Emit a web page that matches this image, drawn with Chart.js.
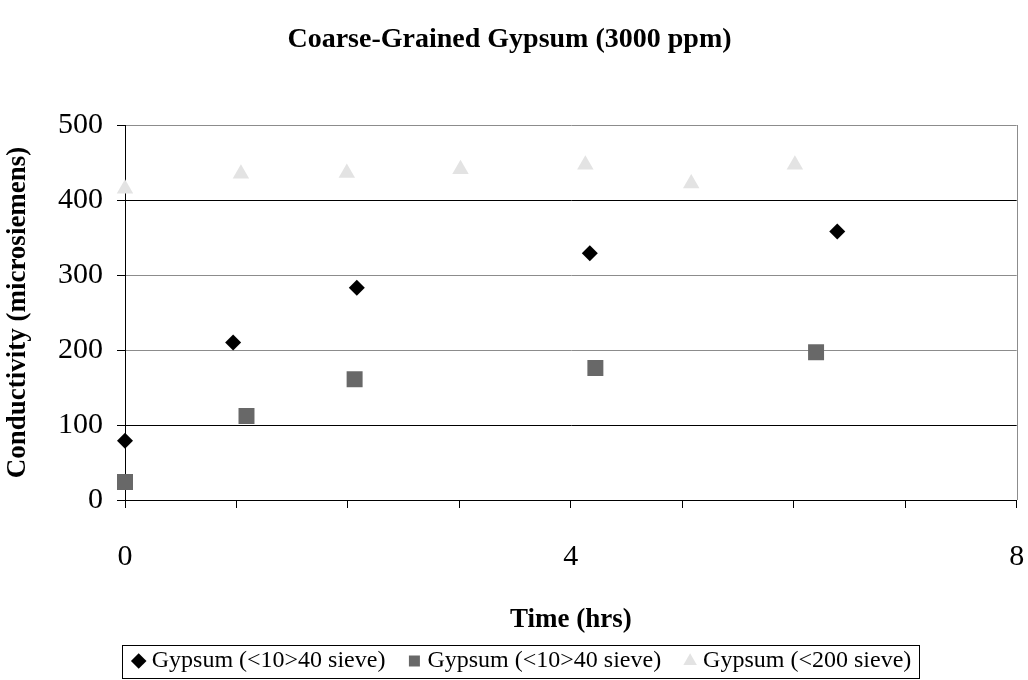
<!DOCTYPE html>
<html>
<head>
<meta charset="utf-8">
<title>Coarse-Grained Gypsum (3000 ppm)</title>
<script src="https://cdn.jsdelivr.net/npm/chart.js@4.4.0/dist/chart.umd.min.js"></script>
<style>
  html, body { margin: 0; padding: 0; background: #fff; }
  #wrap { width: 1028px; height: 680px; }
</style>
</head>
<body>
<div id="wrap"><canvas id="gypsumChart" width="1028" height="680"></canvas></div>
<script>

// readings taken off the original chart
const seriesNames = ['Gypsum (<10>40 sieve)', 'Gypsum (<10>40 sieve)', 'Gypsum (<200 sieve)'];

const coarseTimes = [0, 0.97, 2.08, 4.17, 6.39];
const coarseValues = [79, 210, 283, 329, 358];

const coarseBTimes = [0, 1.09, 2.06, 4.22, 6.2];
const coarseBValues = [24, 112, 161, 176, 197];

const fineTimes = [0, 1.04, 1.99, 3.01, 4.13, 5.08, 6.01];
const fineValues = [415, 435, 436, 441, 447, 422, 447];

const xTickLabels = [0, 4, 8];
const yMax = 500;
const xMax = 8;


function toPoints(xs, ys) {
    return xs.map((x, i) => ({ x: x, y: ys[i] }));
}


// gray right edge of the plot area, drawn under the points
const plotEdge = {
    id: 'plotEdge',
    beforeDatasetsDraw(chart) {
        const { ctx, chartArea } = chart;
        ctx.save();
        ctx.strokeStyle = '#8c8c8c';
        ctx.lineWidth = 1;
        ctx.beginPath();
        ctx.moveTo(Math.round(chartArea.right) + 0.5, chartArea.top);
        ctx.lineTo(Math.round(chartArea.right) + 0.5, chartArea.bottom);
        ctx.stroke();
        ctx.restore();
    }
};

// the legend row sits a little right of centre in the original
const legendShift = {
    id: 'legendShift',
    afterLayout(chart) {
        if (chart.legend) {
            chart.legend.left += 15;
            chart.legend.right += 15;
        }
    }
};

// frame around the legend row
const legendFrame = {
    id: 'legendFrame',
    afterDraw(chart) {
        const boxes = chart.legend && chart.legend.legendHitBoxes;
        if (!boxes || !boxes.length) return;
        const first = boxes[0];
        const last = boxes[boxes.length - 1];
        const left = Math.round(first.left - 16) + 0.5;
        const right = Math.round(last.left + last.width + 8) + 0.5;
        const top = Math.round(first.top - 4) + 0.5;
        const bottom = Math.round(first.top + 29) + 0.5;
        const ctx = chart.ctx;
        ctx.save();
        ctx.strokeStyle = '#000';
        ctx.lineWidth = 1;
        ctx.strokeRect(left, top, right - left, bottom - top);
        ctx.restore();
    }
};


Chart.defaults.font.family = '"Liberation Serif", "Times New Roman", serif';
Chart.defaults.color = '#000';

const ctx = document.getElementById('gypsumChart').getContext('2d');
new Chart(ctx, {
    type: 'scatter',
    data: {
        datasets: [{
            label: seriesNames[0],
            data: toPoints(coarseTimes, coarseValues),
            pointStyle: 'rectRot',
            pointRadius: 8,
            backgroundColor: '#000',
            borderColor: '#000',
            borderWidth: 0,
            clip: false
        }, {
            label: seriesNames[1],
            data: toPoints(coarseBTimes, coarseBValues),
            pointStyle: 'rect',
            pointRadius: 11.3,
            backgroundColor: '#686868',
            borderColor: '#686868',
            borderWidth: 0,
            clip: false
        }, {
            label: seriesNames[2],
            data: toPoints(fineTimes, fineValues),
            pointStyle: 'triangle',
            pointRadius: 9.5,
            backgroundColor: '#e3e3e3',
            borderColor: '#e3e3e3',
            borderWidth: 0,
            clip: false
        }]
    },
    options: {
        responsive: false,
        animation: false,
        layout: {
            padding: { left: 0, right: 9, top: 0, bottom: -3 }
        },
        scales: {
            x: {
                type: 'linear',
                min: 0,
                max: xMax,
                afterFit: scale => { scale.height = 121; },
                ticks: {
                    stepSize: 1,
                    autoSkip: false,
                    maxRotation: 0,
                    padding: 0,
                    font: { size: 30, lineHeight: 3.27 },
                    color: '#000',
                    callback: v => xTickLabels.includes(v) ? String(v) : ''
                },
                grid: {
                    drawOnChartArea: false,
                    drawTicks: true,
                    tickLength: 8,
                    color: '#000'
                },
                border: { color: '#000', width: 1 },
                title: {
                    display: true,
                    text: 'Time (hrs)',
                    font: { size: 27, weight: 'bold' },
                    color: '#000',
                    padding: { top: 0, bottom: -15 }
                }
            },
            y: {
                min: 0,
                max: yMax,
                afterFit: scale => { scale.width = 125; },
                ticks: {
                    stepSize: 100,
                    padding: 14,
                    font: { size: 30 },
                    color: '#000'
                },
                grid: {
                    tickLength: 8,
                    tickColor: '#000',
                    color: c => [0, 100, 400].includes(c.tick && c.tick.value) ? '#000' : '#8c8c8c'
                },
                border: { color: '#000', width: 1 },
                title: {
                    display: true,
                    text: 'Conductivity (microsiemens)',
                    font: { size: 27, weight: 'bold' },
                    color: '#000',
                    padding: { top: 2, bottom: 2 }
                }
            }
        },
        plugins: {
            title: {
                display: true,
                text: 'Coarse-Grained Gypsum (3000 ppm)',
                font: { size: 28, weight: 'bold' },
                color: '#000',
                padding: { top: 23, bottom: 68.4 }
            },
            legend: {
                position: 'bottom',
                labels: {
                    usePointStyle: true,
                    boxWidth: 2,
                    boxHeight: 11,
                    padding: 28,
                    font: { size: 24 },
                    color: '#000'
                }
            },
            tooltip: { enabled: false }
        }
    },
    plugins: [plotEdge, legendShift, legendFrame]
});
</script>
</body>
</html>
